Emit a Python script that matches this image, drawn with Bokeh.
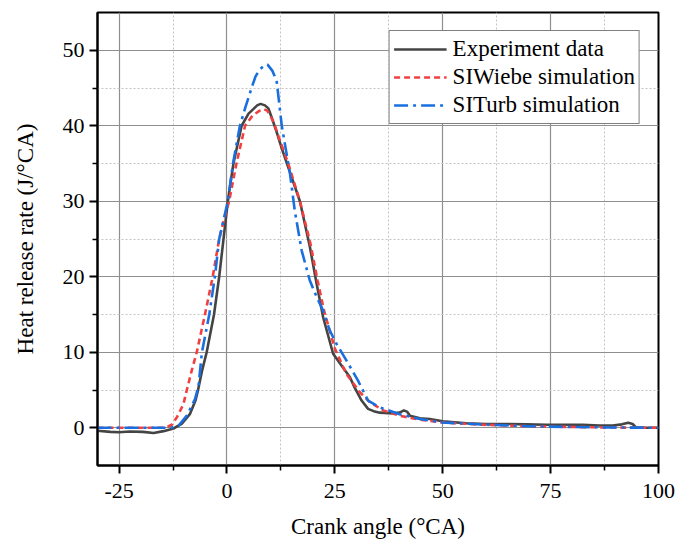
from bokeh.plotting import figure
from bokeh.models import FixedTicker, Range1d, Legend, LegendItem
from bokeh.embed import file_html
from bokeh.resources import INLINE

# ---- data ----
exp_x = [-30, -27, -25, -22.5, -19.5, -17, -14.7, -12.4, -10.5, -8.6,
         -7.3, -6.7, -5.8, -4.7, -3.0, -1.8, -0.9, 0.2, 1.5, 3.4,
         5.0, 6.1, 7.0, 7.8, 8.8, 9.6, 10.3, 11.5, 12.7, 14.5,
         16.9, 19.2, 20.8, 22.3, 24.6, 26.2, 28.5, 29.6, 31.2, 32.7,
         34.0, 35.4, 38.5, 40.0, 41.0, 41.8, 42.4, 44.7, 47.0, 50.0,
         55.5, 60.0, 65.0, 69.4, 74.0, 78.6, 82.4, 86.3, 89.4, 91.5,
         93.0, 94.0, 94.8, 96.0, 100]
exp_y = [-0.4, -0.55, -0.6, -0.5, -0.55, -0.7, -0.45, -0.1, 0.5, 1.8,
         3.6, 5.0, 7.5, 10.0, 15.0, 20.0, 24.5, 30.0, 35.0, 40.0,
         41.6, 42.2, 42.7, 42.9, 42.7, 42.3, 41.2, 39.2, 37.0, 34.0,
         30.0, 24.0, 19.0, 14.6, 9.8, 8.5, 6.7, 5.3, 3.6, 2.5,
         2.2, 2.0, 1.9, 2.0, 2.3, 2.1, 1.6, 1.25, 1.15, 0.85,
         0.6, 0.5, 0.5, 0.45, 0.4, 0.4, 0.4, 0.3, 0.3, 0.45,
         0.65, 0.5, 0.05, 0.0, 0.0]

wiebe_x = [-30, -15, -13.5, -12.8, -11.6, -10.1, -9.3, -8.2, -7.0, -5.1,
           -3.3, -1.8, -0.5, 0.5, 2.2, 4.2, 6.0, 7.6, 8.5, 9.3,
           10.0, 11.0, 12.0, 14.2, 16.9, 19.3, 21.0, 22.5, 25.0, 27.7,
           30.8, 33.1, 36.2, 40.0, 43.9, 50.0, 59.3, 70.0, 80.0, 90.0,
           100]
wiebe_y = [0, 0, 0.2, 0.4, 1.4, 3.1, 5.0, 7.5, 10.0, 15.0,
           20.0, 25.0, 28.0, 30.0, 35.0, 40.0, 41.4, 42.0, 42.2, 42.0,
           41.4, 40.2, 38.5, 35.0, 30.0, 24.5, 19.5, 15.5, 10.5, 7.1,
           4.7, 3.4, 2.3, 1.6, 1.15, 0.7, 0.4, 0.2, 0.1, 0.03,
           0.0]

turb_x = [-30, -14, -12.5, -11.2, -9.3, -7.4, -6.6, -5.8, -4.1, -2.8,
          -1.8, 0.2, 1.4, 3.0, 4.3, 5.7, 6.6, 7.5, 8.5, 9.4,
          10.5, 11.5, 12.1, 12.7, 13.6, 14.6, 15.7, 17.3, 19.2, 20.8,
          22.3, 23.8, 25.4, 27.7, 30.4, 32.7, 35.4, 40.0, 44.7, 50.0,
          60.0, 70.0, 80.0, 90.0, 100]
turb_y = [0, 0, 0.05, 0.3, 1.6, 3.8, 5.5, 10.0, 15.0, 20.0,
          25.0, 30.0, 35.0, 40.0, 42.5, 45.0, 46.5, 47.4, 47.9, 48.1,
          47.3, 46.0, 43.0, 40.0, 37.0, 33.7, 28.8, 23.5, 19.5, 17.3,
          15.5, 12.9, 11.1, 8.9, 6.2, 3.6, 2.7, 1.8, 1.15, 0.7,
          0.4, 0.2, 0.1, 0.03, 0.0]

x_ticks = [-25, 0, 25, 50, 75, 100]
x_tick_labels = ["-25", "0", "25", "50", "75", "100"]
x_minor = [-12.5, 12.5, 37.5, 62.5, 87.5]
y_ticks = [0, 10, 20, 30, 40, 50]
y_tick_labels = ["0", "10", "20", "30", "40", "50"]
y_minor = [5, 15, 25, 35, 45]

labels = ["Experiment data", "SIWiebe simulation", "SITurb simulation"]

FONT = "Liberation Serif"

p = figure(width=678, height=543, output_backend="svg", toolbar_location=None,
           x_range=Range1d(-30, 100), y_range=Range1d(-5, 55),
           min_border_left=97, min_border_right=20,
           min_border_top=12, min_border_bottom=78,
           background_fill_color="white", border_fill_color="white")

p.outline_line_color = "black"
p.outline_line_width = 2

p.xaxis.ticker = FixedTicker(ticks=x_ticks, minor_ticks=x_minor)
p.yaxis.ticker = FixedTicker(ticks=y_ticks, minor_ticks=y_minor)
p.xaxis.major_label_overrides = {t: s for t, s in zip(x_ticks, x_tick_labels)}
p.yaxis.major_label_overrides = {t: s for t, s in zip(y_ticks, y_tick_labels)}

for ax in (p.xaxis, p.yaxis):
    ax.axis_line_color = "black"
    ax.axis_line_width = 2
    ax.major_tick_line_color = "black"
    ax.major_tick_line_width = 2
    ax.minor_tick_line_color = "black"
    ax.minor_tick_line_width = 1.5
    ax.major_tick_out = 8
    ax.major_tick_in = 0
    ax.minor_tick_out = 5
    ax.minor_tick_in = 0
    ax.major_label_text_font = FONT
    ax.major_label_text_font_size = "22px"
    ax.major_label_text_color = "black"
    ax.axis_label_text_font = FONT
    ax.axis_label_text_font_size = "23px"
    ax.axis_label_text_font_style = "normal"
    ax.axis_label_text_color = "black"

p.xaxis.axis_label = "Crank angle (°CA)"
p.yaxis.axis_label = "Heat release rate (J/°CA)"
p.xaxis.major_label_standoff = 10
p.xaxis.axis_label_standoff = 13
p.yaxis.major_label_standoff = 5
p.yaxis.axis_label_standoff = 22

for g in (p.xgrid, p.ygrid):
    g.grid_line_color = "#8f8f8f"
    g.grid_line_width = 1.2
    g.minor_grid_line_color = "#c4c4c4"
    g.minor_grid_line_width = 1
    g.minor_grid_line_dash = "2 2"

r1 = p.line(exp_x, exp_y, line_color="#444444", line_width=2.6)
r2 = p.line(wiebe_x, wiebe_y, line_color="#F14040", line_width=2.6, line_dash="6 4")
r3 = p.line(turb_x, turb_y, line_color="#1A6FDF", line_width=2.6, line_dash="14 5 3 5")

legend = Legend(items=[LegendItem(label=labels[0], renderers=[r1]),
                       LegendItem(label=labels[1], renderers=[r2]),
                       LegendItem(label=labels[2], renderers=[r3])],
                location="top_right", margin=18, padding=4, spacing=0,
                glyph_width=53, glyph_height=28, label_height=28,
                label_standoff=6,
                label_text_font=FONT, label_text_font_size="23px",
                label_text_color="black",
                border_line_color="black", border_line_width=1.5,
                background_fill_color="white", background_fill_alpha=1.0)
p.add_layout(legend)

open("out.html", "w").write(file_html(p, INLINE))
